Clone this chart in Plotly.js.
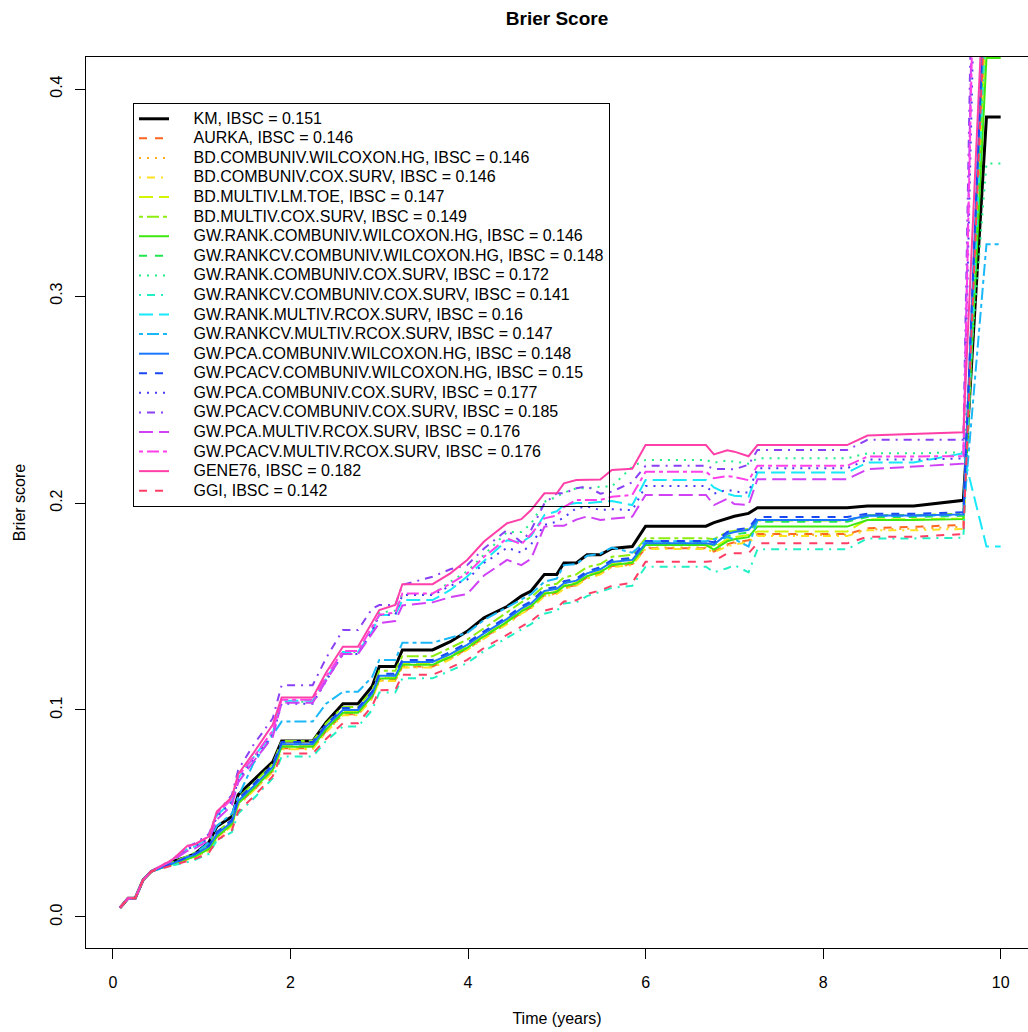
<!DOCTYPE html>
<html>
<head>
<meta charset="utf-8">
<script src="https://cdn.plot.ly/plotly-3.0.1.min.js"></script>
<style>html,body{margin:0;padding:0;background:#fff;}#chart{width:1028px;height:1032px;}</style>
</head>
<body>
<div id="chart"></div>
<script>
// ---------------- DATA ----------------
const timeYears = [
  0.08,0.17,0.25,0.34,0.43,0.68,0.84,0.92,1.08,1.17,
  1.34,1.41,1.58,1.80,1.90,2.25,2.40,2.59,2.76,2.92,
  3.00,3.18,3.26,3.60,3.80,3.99,4.18,4.44,4.60,4.71,
  4.86,5.00,5.08,5.22,5.34,5.49,5.62,5.85,6.00,6.68,
  6.77,6.92,7.00,7.16,7.26,8.27,8.50,9.02,9.58,9.84,
  10.00];

const km = [
  0.0045,0.009,0.009,0.018,0.022,0.027,0.029,0.0305,0.036,0.0437,
  0.0485,0.059,0.066,0.075,0.085,0.085,0.094,0.103,0.103,0.1115,
  0.121,0.121,0.129,0.129,0.133,0.138,0.1445,0.150,0.155,0.1575,
  0.1655,0.1655,0.171,0.171,0.175,0.175,0.178,0.179,0.1888,0.1888,
  0.1905,0.1925,0.1936,0.195,0.1977,0.1977,0.1985,0.1985,0.2013,0.3865,
  0.3865];
const aurka = [
  0.0045,0.009,0.009,0.018,0.022,0.026,0.0282,0.029,0.0325,0.0385,
  0.0445,0.0545,0.0612,0.0705,0.0815,0.0815,0.0898,0.098,0.098,0.106,
  0.1145,0.1145,0.121,0.121,0.125,0.1295,0.135,0.142,0.147,0.1495,
  0.1555,0.1565,0.159,0.1605,0.164,0.166,0.1695,0.1705,0.1781,0.1781,
  0.1765,0.180,0.181,0.182,0.185,0.185,0.1878,0.1885,0.1894,0.44,
  0.44];
const bdCombunivWilcoxon = [
  0.0045,0.009,0.009,0.018,0.022,0.026,0.028,0.029,0.0322,0.0382,
  0.0442,0.0542,0.061,0.0702,0.0812,0.0812,0.0895,0.0977,0.0977,0.1057,
  0.1142,0.1142,0.1207,0.1207,0.1247,0.1292,0.1347,0.1417,0.1467,0.1492,
  0.1552,0.1562,0.1587,0.1602,0.1637,0.1657,0.1692,0.1702,0.1785,0.1785,
  0.1768,0.1795,0.1805,0.1815,0.1846,0.1846,0.1872,0.1876,0.1885,0.43,
  0.43];
const bdCombunivCox = [
  0.0045,0.009,0.009,0.018,0.022,0.0258,0.0278,0.0288,0.032,0.038,
  0.044,0.054,0.0608,0.070,0.081,0.081,0.0892,0.0975,0.0975,0.1055,
  0.114,0.114,0.1205,0.1205,0.1245,0.129,0.1345,0.1415,0.1465,0.149,
  0.155,0.156,0.1585,0.160,0.1635,0.1655,0.169,0.170,0.1778,0.1778,
  0.1762,0.179,0.180,0.181,0.1841,0.1841,0.1868,0.1868,0.1875,0.43,
  0.43];
const bdMultivLmToe = [
  0.0045,0.009,0.009,0.018,0.022,0.026,0.0285,0.0295,0.0335,0.0395,
  0.0455,0.0555,0.0625,0.0718,0.0828,0.0828,0.091,0.099,0.099,0.107,
  0.1155,0.1155,0.1222,0.1222,0.126,0.1305,0.136,0.143,0.148,0.1505,
  0.1565,0.1575,0.1602,0.1615,0.165,0.167,0.1705,0.1715,0.180,0.180,
  0.1785,0.1825,0.1835,0.1845,0.1862,0.1862,0.1921,0.1921,0.1925,0.44,
  0.44];
const bdMultivCox = [
  0.0045,0.009,0.009,0.018,0.022,0.0265,0.0295,0.031,0.035,0.041,
  0.047,0.0575,0.0645,0.074,0.085,0.085,0.0935,0.1015,0.1015,0.1095,
  0.119,0.119,0.126,0.126,0.130,0.134,0.1395,0.1475,0.152,0.1545,
  0.160,0.161,0.164,0.1655,0.169,0.1705,0.174,0.175,0.183,0.183,
  0.1825,0.186,0.1865,0.1875,0.1915,0.1915,0.1942,0.1942,0.1948,0.46,
  0.46];
const gwRankCombunivWilcoxon = [
  0.0045,0.009,0.009,0.018,0.022,0.0258,0.0282,0.0292,0.0328,0.0388,
  0.0448,0.0548,0.0618,0.0712,0.0822,0.0822,0.0905,0.0987,0.0987,0.1067,
  0.1152,0.1152,0.1218,0.1218,0.1256,0.130,0.1356,0.1426,0.1476,0.1501,
  0.1561,0.1571,0.1598,0.1611,0.1646,0.1666,0.1701,0.1711,0.1797,0.1797,
  0.1775,0.1815,0.1825,0.1835,0.1886,0.1886,0.1918,0.1918,0.1922,0.415,
  0.415];
const gwRankcvCombunivWilcoxon = [
  0.0045,0.009,0.009,0.018,0.022,0.026,0.0285,0.030,0.034,0.0405,
  0.0465,0.0565,0.0635,0.073,0.0838,0.0838,0.0922,0.1003,0.1003,0.1083,
  0.1168,0.1168,0.1235,0.1235,0.1272,0.1318,0.1372,0.1443,0.1493,0.1518,
  0.1578,0.1588,0.1615,0.1628,0.1663,0.1683,0.1718,0.1728,0.1808,0.1808,
  0.1795,0.1838,0.1848,0.1858,0.1910,0.1910,0.1932,0.1932,0.1938,0.45,
  0.45];
const gwRankCombunivCox = [
  0.0045,0.009,0.009,0.018,0.022,0.0275,0.033,0.034,0.038,0.049,
  0.056,0.067,0.077,0.089,0.104,0.104,0.115,0.128,0.128,0.139,
  0.147,0.148,0.156,0.156,0.162,0.167,0.175,0.186,0.186,0.190,
  0.2006,0.203,0.205,0.2071,0.2071,0.2079,0.208,0.2176,0.2208,0.2208,
  0.2195,0.2205,0.2200,0.2190,0.2216,0.2216,0.224,0.224,0.2245,0.364,
  0.364];
const gwRankcvCombunivCox = [
  0.0045,0.009,0.009,0.018,0.022,0.025,0.0265,0.0275,0.0305,0.037,
  0.041,0.050,0.057,0.067,0.0775,0.0775,0.085,0.092,0.092,0.100,
  0.1085,0.1085,0.1153,0.1153,0.119,0.1226,0.1285,0.135,0.139,0.1415,
  0.1465,0.148,0.1515,0.152,0.155,0.157,0.159,0.160,0.1692,0.1692,
  0.1665,0.1685,0.170,0.1665,0.1776,0.1776,0.1829,0.1829,0.1832,0.44,
  0.44];
const gwRankMultivRcox = [
  0.0045,0.009,0.009,0.018,0.022,0.0275,0.033,0.034,0.038,0.049,
  0.056,0.067,0.077,0.089,0.1045,0.1045,0.115,0.128,0.128,0.138,
  0.1459,0.1459,0.1531,0.1531,0.158,0.1645,0.172,0.182,0.181,0.184,
  0.1942,0.196,0.199,0.200,0.200,0.2006,0.201,0.199,0.2111,0.2111,
  0.2075,0.2045,0.2035,0.203,0.2147,0.2147,0.2196,0.2196,0.2240,0.179,
  0.179];
const gwRankcvMultivRcox = [
  0.0045,0.009,0.009,0.018,0.022,0.026,0.029,0.0305,0.036,0.044,
  0.050,0.058,0.074,0.088,0.0944,0.0944,0.103,0.1088,0.1088,0.116,
  0.1242,0.1242,0.1325,0.1325,0.135,0.1372,0.1435,0.1495,0.1535,0.156,
  0.162,0.1635,0.170,0.1705,0.1745,0.1755,0.1785,0.176,0.1815,0.1815,
  0.1825,0.1835,0.1825,0.179,0.1918,0.1918,0.1938,0.1938,0.1942,0.325,
  0.325];
const gwPcaCombunivWilcoxon = [
  0.0045,0.009,0.009,0.018,0.022,0.026,0.029,0.030,0.034,0.040,
  0.046,0.056,0.063,0.0725,0.0835,0.0835,0.092,0.100,0.100,0.108,
  0.1165,0.1165,0.1232,0.1232,0.127,0.1315,0.137,0.144,0.149,0.1515,
  0.1575,0.1585,0.1612,0.1625,0.166,0.168,0.1715,0.1725,0.1805,0.1805,
  0.180,0.185,0.186,0.187,0.1918,0.1918,0.194,0.194,0.1945,0.47,
  0.47];
const gwPcacvCombunivWilcoxon = [
  0.0045,0.009,0.009,0.018,0.022,0.026,0.029,0.0305,0.0345,0.041,
  0.047,0.057,0.064,0.0735,0.0845,0.0845,0.093,0.101,0.101,0.109,
  0.1175,0.1175,0.1242,0.1242,0.128,0.1325,0.138,0.145,0.150,0.1525,
  0.1585,0.1595,0.1622,0.1635,0.167,0.169,0.1725,0.1735,0.1817,0.1817,
  0.181,0.186,0.187,0.188,0.1932,0.1932,0.1948,0.1948,0.1955,0.47,
  0.47];
const gwPcaCombunivCox = [
  0.0045,0.009,0.009,0.018,0.022,0.0275,0.033,0.034,0.038,0.0485,
  0.0555,0.066,0.076,0.088,0.103,0.103,0.114,0.127,0.127,0.138,
  0.146,0.146,0.1555,0.1555,0.160,0.163,0.171,0.1784,0.176,0.180,
  0.1894,0.191,0.193,0.1975,0.1983,0.1966,0.197,0.1965,0.2082,0.2082,
  0.2045,0.2065,0.2055,0.2050,0.2168,0.2168,0.221,0.221,0.2215,0.70,
  0.70];
const gwPcacvCombunivCox = [
  0.0045,0.009,0.009,0.018,0.022,0.028,0.034,0.0355,0.040,0.050,
  0.059,0.071,0.083,0.096,0.112,0.112,0.125,0.1386,0.1386,0.149,
  0.1507,0.1507,0.1604,0.1644,0.168,0.170,0.178,0.187,0.181,0.187,
  0.1998,0.2047,0.2047,0.2071,0.208,0.2045,0.2055,0.210,0.218,0.218,
  0.2165,0.2165,0.2163,0.2185,0.2256,0.2256,0.2305,0.2305,0.2305,0.85,
  0.85];
const gwPcaMultivRcox = [
  0.0045,0.009,0.009,0.018,0.022,0.0275,0.032,0.033,0.037,0.047,
  0.054,0.065,0.075,0.087,0.1035,0.1035,0.114,0.127,0.127,0.137,
  0.142,0.143,0.1505,0.152,0.1545,0.156,0.165,0.1725,0.170,0.173,
  0.1886,0.189,0.189,0.192,0.1935,0.1918,0.1925,0.1934,0.2039,0.2039,
  0.199,0.202,0.1995,0.199,0.2115,0.2115,0.2163,0.2175,0.219,0.80,
  0.80];
const gwPcacvMultivRcox = [
  0.0045,0.009,0.009,0.018,0.022,0.028,0.034,0.035,0.039,0.050,
  0.057,0.068,0.077,0.090,0.105,0.105,0.116,0.1285,0.1285,0.140,
  0.146,0.147,0.1563,0.1563,0.161,0.166,0.174,0.183,0.180,0.185,
  0.1926,0.194,0.198,0.2015,0.2015,0.2015,0.203,0.2039,0.2151,0.2151,
  0.2120,0.213,0.2125,0.211,0.218,0.218,0.2224,0.2224,0.2226,0.75,
  0.75];
const gene76 = [
  0.0045,0.009,0.009,0.018,0.022,0.028,0.0345,0.035,0.0388,0.051,
  0.058,0.069,0.079,0.093,0.106,0.106,0.118,0.1306,0.1306,0.142,
  0.1483,0.1507,0.1608,0.1608,0.166,0.1725,0.1814,0.1902,0.1922,0.1966,
  0.2047,0.2047,0.2095,0.2111,0.2112,0.2114,0.216,0.2165,0.228,0.228,
  0.2235,0.2255,0.2248,0.2226,0.228,0.228,0.2326,0.2332,0.2342,0.48,
  0.48];
const ggi = [
  0.0045,0.009,0.009,0.018,0.022,0.025,0.027,0.028,0.031,0.037,
  0.042,0.051,0.058,0.068,0.079,0.079,0.086,0.0936,0.0936,0.102,
  0.1095,0.1097,0.117,0.117,0.1205,0.1242,0.130,0.1365,0.1405,0.143,
  0.148,0.1495,0.1524,0.153,0.156,0.1578,0.160,0.1615,0.1716,0.1716,
  0.172,0.1757,0.1757,0.1757,0.1805,0.1805,0.1837,0.1837,0.185,0.46,
  0.46];

const seriesNames = [
  "KM, IBSC = 0.151",
  "AURKA, IBSC = 0.146",
  "BD.COMBUNIV.WILCOXON.HG, IBSC = 0.146",
  "BD.COMBUNIV.COX.SURV, IBSC = 0.146",
  "BD.MULTIV.LM.TOE, IBSC = 0.147",
  "BD.MULTIV.COX.SURV, IBSC = 0.149",
  "GW.RANK.COMBUNIV.WILCOXON.HG, IBSC = 0.146",
  "GW.RANKCV.COMBUNIV.WILCOXON.HG, IBSC = 0.148",
  "GW.RANK.COMBUNIV.COX.SURV, IBSC = 0.172",
  "GW.RANKCV.COMBUNIV.COX.SURV, IBSC = 0.141",
  "GW.RANK.MULTIV.RCOX.SURV, IBSC = 0.16",
  "GW.RANKCV.MULTIV.RCOX.SURV, IBSC = 0.147",
  "GW.PCA.COMBUNIV.WILCOXON.HG, IBSC = 0.148",
  "GW.PCACV.COMBUNIV.WILCOXON.HG, IBSC = 0.15",
  "GW.PCA.COMBUNIV.COX.SURV, IBSC = 0.177",
  "GW.PCACV.COMBUNIV.COX.SURV, IBSC = 0.185",
  "GW.PCA.MULTIV.RCOX.SURV, IBSC = 0.176",
  "GW.PCACV.MULTIV.RCOX.SURV, IBSC = 0.176",
  "GENE76, IBSC = 0.182",
  "GGI, IBSC = 0.142"
];
const seriesValues = [
  km, aurka, bdCombunivWilcoxon, bdCombunivCox, bdMultivLmToe, bdMultivCox,
  gwRankCombunivWilcoxon, gwRankcvCombunivWilcoxon, gwRankCombunivCox, gwRankcvCombunivCox,
  gwRankMultivRcox, gwRankcvMultivRcox, gwPcaCombunivWilcoxon, gwPcacvCombunivWilcoxon,
  gwPcaCombunivCox, gwPcacvCombunivCox, gwPcaMultivRcox, gwPcacvMultivRcox, gene76, ggi
];
const xTicks = [0, 2, 4, 6, 8, 10];
const yTicks = [0, 0.1, 0.2, 0.3, 0.4];

// ---------------- STYLE ----------------
const lineColors = [
  "#000000", "#FF6622", "#FFAA22", "#FFE020", "#D4F500", "#8CEE10",
  "#3EE80E", "#22E650", "#22EE88", "#22F0C4", "#18E8F8", "#1AB8F8",
  "#1A78FF", "#1A48F5", "#4A3AF5", "#8A40F5", "#D040F5", "#FF40E8",
  "#FF40A8", "#FF3E66"
];
const DASHED = "8px,8px", DOTTED = "2px,6px", DOTDASH = "2px,6px,8px,6px",
      LONGDASH = "14px,6px", TWODASH = "4px,4px,12px,4px";
const ltyCycle = ["solid", DASHED, DOTTED, DOTDASH, LONGDASH, TWODASH];
const FONT = "'Liberation Sans', Arial, Helvetica, sans-serif";
// non-breaking spaces push the legend text right, like R's wider symbol gap
const LEGEND_GAP = '<span style="font-size:17.5px">\u00A0\u00A0\u00A0\u00A0</span>';

const traces = seriesNames.map((nm, i) => ({
  type: "scatter",
  mode: "lines",
  x: timeYears,
  y: seriesValues[i],
  name: LEGEND_GAP + '<span style="font-size:16px">' + nm + '</span>',
  line: { color: lineColors[i], width: i === 0 ? 3 : 2, dash: ltyCycle[i % 6] },
  hoverinfo: "x+y"
}));

const W = 1028, H = 1032;
const L = 86, R = 0, T = 57, B = 84;

const layout = {
  width: W, height: H,
  margin: { l: L, r: R, t: T, b: B, pad: 0 },
  paper_bgcolor: "#ffffff",
  plot_bgcolor: "#ffffff",
  font: { family: FONT, size: 16, color: "#000" },
  showlegend: true,
  title: {
    text: "Brier Score",
    font: { family: FONT, size: 19, weight: 700, color: "#000" },
    x: 0.5, xref: "paper", xanchor: "center",
    y: 1 - 18 / H, yref: "container", yanchor: "middle"
  },
  xaxis: {
    range: [-0.304, 10.308],
    tickvals: xTicks,
    ticks: "outside", ticklen: 10, tickwidth: 1, tickcolor: "#000",
    showline: true, mirror: true, linecolor: "#000", linewidth: 1,
    showgrid: false, zeroline: false,
    tickfont: { family: FONT, size: 16, color: "#000" },
    ticklabelstandoff: 10,
    title: { text: "Time (years)", font: { family: FONT, size: 16, color: "#000" }, standoff: 22 },
    automargin: false
  },
  yaxis: {
    range: [-0.01498, 0.41546],
    tickvals: yTicks,
    tickformat: ".1f",
    tickangle: -90,
    ticks: "outside", ticklen: 10, tickwidth: 1, tickcolor: "#000",
    showline: true, mirror: true, linecolor: "#000", linewidth: 1,
    showgrid: false, zeroline: false,
    tickfont: { family: FONT, size: 16, color: "#000" },
    ticklabelstandoff: 7,
    title: { text: "Brier score", font: { family: FONT, size: 16, color: "#000" }, standoff: 17 },
    automargin: false
  },
  legend: {
    x: (133 - L) / (W - L - R),
    y: (H - B - 103) / (H - T - B),
    xanchor: "left", yanchor: "top",
    bgcolor: "rgba(255,255,255,0)", bordercolor: "#000", borderwidth: 1,
    font: { family: FONT, size: 12.75, color: "#000" },
    tracegroupgap: 0,
    itemwidth: 30,
    traceorder: "normal"
  }
};

Plotly.newPlot("chart", traces, layout, { displayModeBar: false, staticPlot: true });
</script>
</body>
</html>
